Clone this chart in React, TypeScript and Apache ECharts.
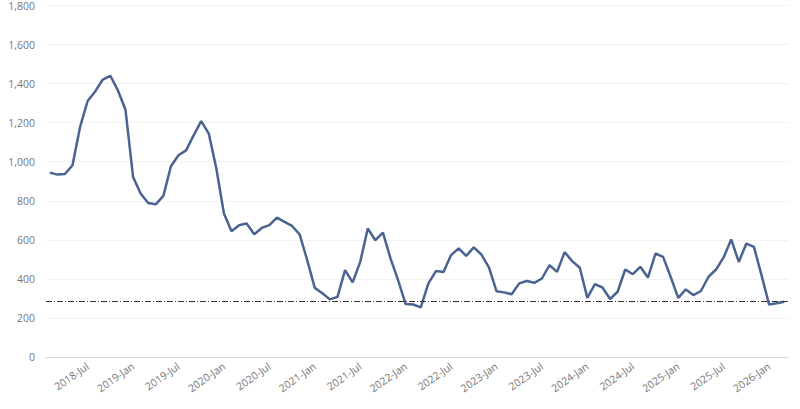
import React, { useEffect, useRef } from "react";
import * as echarts from "echarts";

const startYear = 2018;
const startMonth = 1; // 0-based: Feb
const monthNames = ["Jan", "Feb", "Mar", "Apr", "May", "Jun", "Jul", "Aug", "Sep", "Oct", "Nov", "Dec"];

const values: number[] = [
  944, 934, 937, 982, 1178, 1311, 1360, 1421, 1440, 1365,
  1266, 922, 837, 789, 782, 825, 977, 1033, 1058, 1135,
  1208, 1144, 965, 735, 644, 675, 684, 629, 661, 675,
  714, 692, 671, 628, 496, 354, 326, 295, 308, 445,
  382, 487, 658, 598, 637, 505, 394, 271, 269, 254,
  377, 440, 435, 522, 556, 518, 561, 525, 459, 337,
  331, 321, 377, 389, 380, 402, 470, 436, 537, 491,
  457, 303, 373, 356, 297, 334, 448, 424, 462, 407,
  530, 513, 411, 303, 346, 317, 338, 411, 448, 510,
  602, 487, 581, 564, 419, 269, 275, 283,
];

const categories: string[] = values.map((_, i) => {
  const m = startMonth + i;
  const y = startYear + Math.floor(m / 12);
  return `${y}-${monthNames[m % 12]}`;
});

const yTicks = { min: 0, max: 1800, interval: 200 };

export default function App() {
  const ref = useRef<HTMLDivElement>(null);
  useEffect(() => {
    document.body.style.margin = "0";
    if (!ref.current) return;
    const chart = echarts.init(ref.current, null, { renderer: "svg" });
    const font = "'Open Sans', sans-serif";
    chart.setOption({
      animation: false,
      backgroundColor: "#ffffff",
      grid: { left: 46, right: 12, top: 5, bottom: 52, containLabel: false },
      xAxis: {
        type: "category",
        data: categories,
        boundaryGap: true,
        axisLine: { show: true, lineStyle: { color: "#d9d9d9", width: 1 } },
        axisTick: { show: false },
        splitLine: { show: false },
        axisLabel: {
          interval: (_i: number, v: string) => v.endsWith("Jan") || v.endsWith("Jul"),
          rotate: 35,
          margin: 8,
          color: "#777777",
          fontSize: 10.5,
          fontFamily: font,
        },
      },
      yAxis: {
        type: "value",
        min: yTicks.min,
        max: yTicks.max,
        interval: yTicks.interval,
        axisLine: { show: false },
        axisTick: { show: false },
        splitLine: { show: true, lineStyle: { color: "#f2f2f2", width: 1 } },
        axisLabel: {
          margin: 11,
          color: "#777777",
          fontSize: 10.5,
          fontFamily: font,
          formatter: (v: number) => v.toLocaleString("en-US"),
        },
      },
      series: [
        {
          type: "line",
          data: values,
          showSymbol: false,
          symbol: "none",
          lineStyle: { color: "#4a6491", width: 2.5 },
          itemStyle: { color: "#4a6491" },
          markLine: {
            silent: true,
            symbol: ["none", "none"],
            label: { show: false },
            lineStyle: { color: "#333333", width: 1, type: [6, 2, 1, 2] },
            data: [{ yAxis: values[values.length - 1] }],
          },
        },
      ],
    });
    return () => chart.dispose();
  }, []);
  return <div ref={ref} style={{ width: 800, height: 409 }} />;
}
